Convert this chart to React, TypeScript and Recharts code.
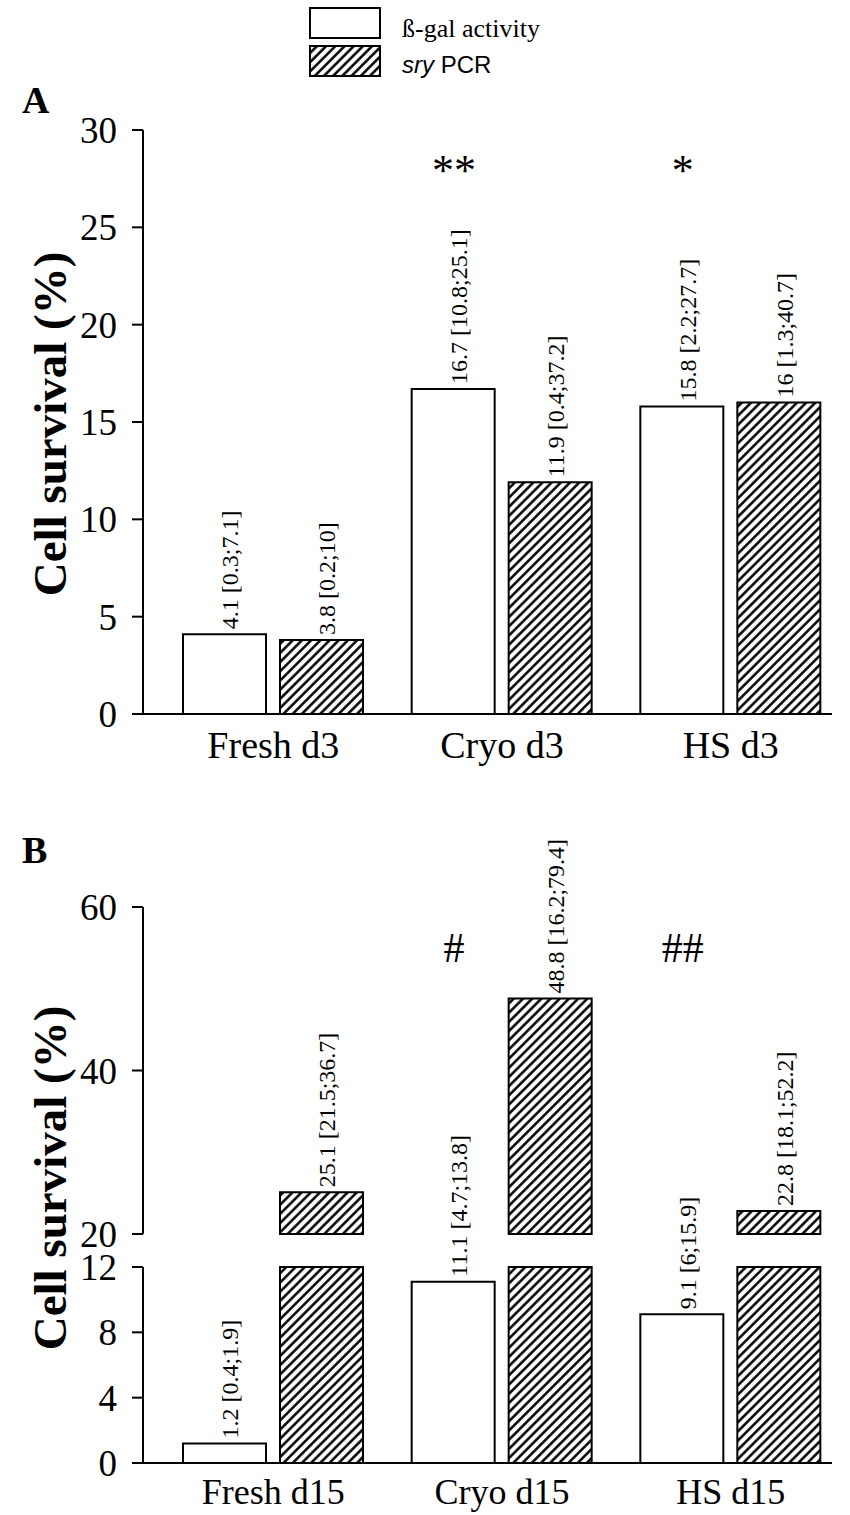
import React from 'react';
import { BarChart, Bar, XAxis, YAxis, LabelList, ReferenceDot } from 'recharts';

const SERIF = "'Liberation Serif', 'Times New Roman', serif";
const SANS = "'Liberation Sans', Arial, sans-serif";

// Panel A
const categoriesA = ['Fresh d3', 'Cryo d3', 'HS d3'];
const galA = [4.1, 16.7, 15.8];
const galLowA = [0.3, 10.8, 2.2];
const galHighA = [7.1, 25.1, 27.7];
const sryA = [3.8, 11.9, 16];
const sryLowA = [0.2, 0.4, 1.3];
const sryHighA = [10, 37.2, 40.7];
const sigA = ['', '**', '*'];
const ticksA = [0, 5, 10, 15, 20, 25, 30];

// Panel B
const categoriesB = ['Fresh d15', 'Cryo d15', 'HS d15'];
const galB = [1.2, 11.1, 9.1];
const galLowB = [0.4, 4.7, 6];
const galHighB = [1.9, 13.8, 15.9];
const sryB = [25.1, 48.8, 22.8];
const sryLowB = [21.5, 16.2, 18.1];
const sryHighB = [36.7, 79.4, 52.2];
const sigB = ['', '#', '##'];
const ticksBUpper = [20, 40, 60];
const ticksBLower = [0, 4, 8, 12];
const BREAK_LOW = 12;
const BREAK_HIGH = 20;
const SIG_Y_A = 27.9;
const SIG_Y_B = 55;

const fmt = (v: number, lo: number, hi: number) => `${v} [${lo};${hi}]`;

const dataA = categoriesA.map((c, i) => ({
  cat: c,
  gal: galA[i],
  sry: sryA[i],
  galLabel: fmt(galA[i], galLowA[i], galHighA[i]),
  sryLabel: fmt(sryA[i], sryLowA[i], sryHighA[i]),
}));

const dataBUpper = categoriesB.map((c, i) => ({
  cat: c,
  gal: null as number | null,
  sry: sryB[i],
  sryLabel: fmt(sryB[i], sryLowB[i], sryHighB[i]),
}));

const dataBLower = categoriesB.map((c, i) => ({
  cat: c,
  gal: galB[i],
  sry: Math.min(sryB[i], BREAK_LOW),
  galLabel: fmt(galB[i], galLowB[i], galHighB[i]),
}));

const VertLabel = (p: any) => {
  const vb = p.viewBox && p.viewBox.x != null ? p.viewBox : p;
  if (p.value == null || vb.x == null || vb.y == null) return null;
  const x = vb.x + vb.width / 2 + 14;
  const y = vb.y - 5;
  return (
    <text
      x={x}
      y={y}
      transform={`rotate(-90 ${x} ${y})`}
      fontFamily={SERIF}
      fontSize={24}
      fill="#000"
      textAnchor="start"
    >
      {p.value}
    </text>
  );
};

const sigLabel = (text: string, size: number) => (p: any) => {
  const vb = p.viewBox || {};
  const x = vb.x + (vb.width || 0) / 2 - 48;
  const y = vb.y + (vb.height || 0) / 2;
  return (
    <text x={x} y={y} textAnchor="middle" dominantBaseline="central" fontFamily={SERIF} fontSize={size} fill="#000">
      {text}
    </text>
  );
};

const axisStroke = { stroke: '#000', strokeWidth: 2 };
const yTickFont = { fontFamily: SERIF, fontSize: 37, fill: '#000' };
const xTickFont = { fontFamily: SERIF, fontSize: 38, fill: '#000' };
const xTickFontB = { fontFamily: SERIF, fontSize: 36, fill: '#000' };
const xPad = { left: 16, right: -13 };

export default function App() {
  return (
    <div style={{ position: 'absolute', left: 0, top: 0, width: 850, height: 1515, background: '#fff', overflow: 'hidden' }}>
      <svg width={850} height={1515} style={{ position: 'absolute', left: 0, top: 0 }}>
        <defs>
          <pattern id="hatch" patternUnits="userSpaceOnUse" width="6.5" height="6.5" patternTransform="rotate(45)">
            <rect width="6.5" height="6.5" fill="#fff" />
            <line x1="3.25" y1="0" x2="3.25" y2="6.5" stroke="#000" strokeWidth="2.5" />
          </pattern>
        </defs>
        {/* legend */}
        <rect x={310} y={8} width={70} height={30} fill="#fff" stroke="#000" strokeWidth={2} />
        <rect x={310} y={46} width={70} height={30} fill="url(#hatch)" stroke="#000" strokeWidth={2} />
        <text x={402} y={37} fontFamily={SERIF} fontSize={26} fill="#000">ß-gal activity</text>
        <text x={402} y={73} fontFamily={SANS} fontSize={24} fill="#000">
          <tspan fontStyle="italic">sry</tspan> PCR
        </text>
        {/* panel letters */}
        <text x={22} y={113} fontFamily={SERIF} fontSize={38} fontWeight="bold" fill="#000">A</text>
        <text x={22} y={863} fontFamily={SERIF} fontSize={38} fontWeight="bold" fill="#000">B</text>
        {/* y labels */}
        <text x={66} y={424} transform="rotate(-90 66 424)" textAnchor="middle" fontFamily={SERIF} fontSize={47} fontWeight="bold" fill="#000">Cell survival (%)</text>
        <text x={66} y={1178} transform="rotate(-90 66 1178)" textAnchor="middle" fontFamily={SERIF} fontSize={47} fontWeight="bold" fill="#000">Cell survival (%)</text>
      </svg>

      {/* Panel A */}
      <div style={{ position: 'absolute', left: 0, top: 0 }}>
        <BarChart width={850} height={790} data={dataA} margin={{ top: 130, right: 18, left: 63, bottom: 0 }} barSize={83} barGap={14}>
          <XAxis dataKey="cat" padding={xPad} tickLine={false} axisLine={axisStroke} tick={xTickFont} tickMargin={11} height={76} interval={0} />
          <YAxis width={80} domain={[0, 30]} ticks={ticksA} interval={0} tickSize={11} tickMargin={15} tickLine={axisStroke} axisLine={axisStroke} tick={yTickFont} />
          <Bar dataKey="gal" fill="#fff" stroke="#000" strokeWidth={2} isAnimationActive={false}>
            <LabelList dataKey="galLabel" content={VertLabel} />
          </Bar>
          <Bar dataKey="sry" fill="url(#hatch)" stroke="#000" strokeWidth={2} isAnimationActive={false}>
            <LabelList dataKey="sryLabel" content={VertLabel} />
          </Bar>
          {sigA.map((s, i) =>
            s ? (
              <ReferenceDot key={i} x={categoriesA[i]} y={SIG_Y_A} r={1} fill="none" stroke="none" label={sigLabel(s, 44)} />
            ) : null
          )}
        </BarChart>
      </div>

      {/* Panel B upper segment */}
      <div style={{ position: 'absolute', left: 0, top: 800 }}>
        <BarChart width={850} height={456} data={dataBUpper} margin={{ top: 107, right: 18, left: 63, bottom: 22 }} barSize={83} barGap={14}>
          <XAxis dataKey="cat" padding={xPad} hide />
          <YAxis width={80} domain={[BREAK_HIGH, 60]} ticks={ticksBUpper} interval={0} tickSize={11} tickMargin={15} tickLine={axisStroke} axisLine={axisStroke} tick={yTickFont} />
          <Bar dataKey="gal" fill="#fff" stroke="#000" strokeWidth={2} isAnimationActive={false} />
          <Bar dataKey="sry" fill="url(#hatch)" stroke="#000" strokeWidth={2} isAnimationActive={false}>
            <LabelList dataKey="sryLabel" content={VertLabel} />
          </Bar>
          {sigB.map((s, i) =>
            s ? (
              <ReferenceDot key={i} x={categoriesB[i]} y={SIG_Y_B} r={1} fill="none" stroke="none" label={sigLabel(s, 42)} />
            ) : null
          )}
        </BarChart>
      </div>

      {/* Panel B lower segment */}
      <div style={{ position: 'absolute', left: 0, top: 1080 }}>
        <BarChart width={850} height={435} data={dataBLower} margin={{ top: 187, right: 18, left: 63, bottom: 0 }} barSize={83} barGap={14}>
          <XAxis dataKey="cat" padding={xPad} tickLine={false} axisLine={axisStroke} tick={xTickFontB} tickMargin={9} height={52} interval={0} />
          <YAxis width={80} domain={[0, BREAK_LOW]} ticks={ticksBLower} interval={0} tickSize={11} tickMargin={15} tickLine={axisStroke} axisLine={axisStroke} tick={yTickFont} />
          <Bar dataKey="gal" fill="#fff" stroke="#000" strokeWidth={2} isAnimationActive={false}>
            <LabelList dataKey="galLabel" content={VertLabel} />
          </Bar>
          <Bar dataKey="sry" fill="url(#hatch)" stroke="#000" strokeWidth={2} isAnimationActive={false} />
        </BarChart>
      </div>
    </div>
  );
}
